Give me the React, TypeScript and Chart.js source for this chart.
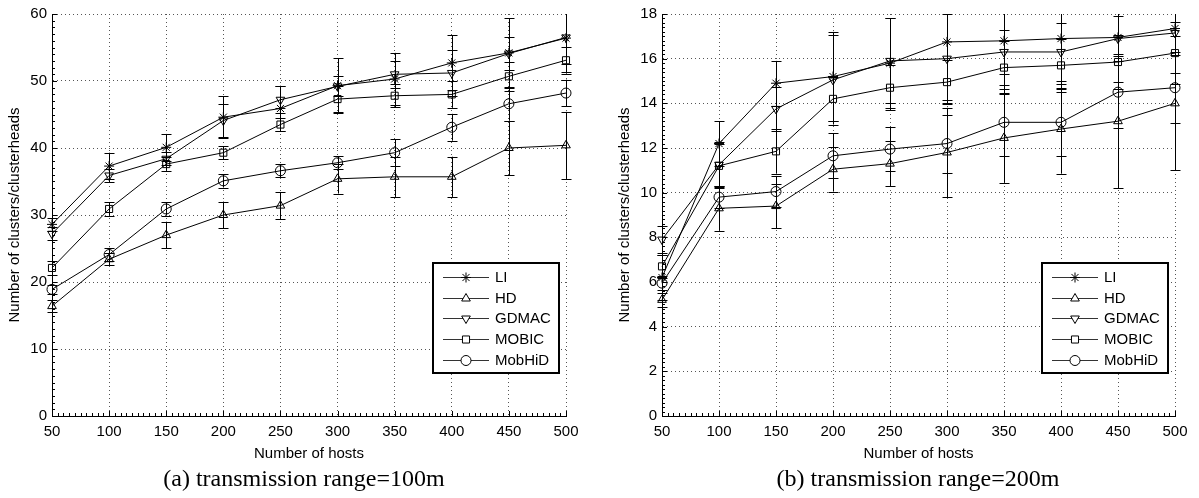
import React, { useEffect, useRef } from "react";
import { Chart, registerables } from "chart.js";
import { drawPoint } from "chart.js/helpers";

Chart.register(...registerables);

// ---------- data ----------
const hosts = [50, 100, 150, 200, 250, 300, 350, 400, 450, 500];
const seriesNames = ["LI", "HD", "GDMAC", "MOBIC", "MobHiD"];

// (a) transmission range = 100m
const aLI = [28.6, 37.3, 40.1, 44.6, 45.9, 49.3, 50.3, 52.7, 54.2, 56.4];
const aLIErr = [1.0, 2.0, 2.0, 3.1, 3.4, 4.1, 3.9, 4.1, 5.2, 5.0];
const aHD = [16.4, 23.4, 27.0, 30.0, 31.4, 35.4, 35.7, 35.7, 40.0, 40.4];
const aHDErr = [0.9, 0.9, 2.0, 2.0, 2.0, 2.2, 3.0, 3.0, 4.1, 5.0];
const aGDMAC = [27.2, 35.9, 38.4, 44.1, 47.2, 49.2, 51.0, 51.2, 54.1, 56.5];
const aGDMACErr = [1.0, 1.0, 1.0, 2.5, 2.0, 1.5, 2.0, 3.5, 2.5, 4.0];
const aMOBIC = [22.1, 30.9, 37.6, 39.3, 43.5, 47.3, 47.8, 48.0, 50.7, 53.1];
const aMOBICErr = [1.0, 1.0, 1.0, 1.0, 1.0, 2.0, 1.7, 2.0, 2.2, 2.0];
const aMobHiD = [18.9, 24.1, 30.9, 35.1, 36.6, 37.8, 39.3, 43.1, 46.6, 48.2];
const aMobHiDErr = [0.7, 1.0, 1.0, 1.0, 1.0, 1.0, 2.0, 2.0, 2.5, 2.0];

// (b) transmission range = 200m
const bLI = [6.2, 12.2, 14.9, 15.2, 15.8, 16.75, 16.8, 16.9, 16.95, 17.35];
const bLIErr = [1.0, 1.0, 1.0, 2.0, 2.0, 2.6, 2.0, 2.2, 2.0, 2.0];
const bHD = [5.2, 9.3, 9.4, 11.05, 11.3, 11.8, 12.45, 12.85, 13.2, 14.0];
const bHDErr = [0.3, 1.0, 1.0, 1.0, 1.0, 2.0, 2.0, 2.0, 3.0, 3.0];
const bGDMAC = [7.9, 11.25, 13.75, 15.05, 15.9, 16.0, 16.3, 16.3, 16.9, 17.15];
const bGDMACErr = [0.6, 1.0, 1.0, 2.0, 1.9, 2.0, 1.0, 1.3, 1.0, 1.0];
const bMOBIC = [6.7, 11.2, 11.85, 14.2, 14.7, 14.95, 15.6, 15.7, 15.85, 16.25];
const bMOBICErr = [0.5, 1.0, 1.0, 1.0, 1.0, 1.0, 1.2, 1.2, 1.2, 1.4];
const bMobHiD = [5.95, 9.8, 10.05, 11.65, 11.95, 12.2, 13.15, 13.15, 14.5, 14.7];
const bMobHiDErr = [0.3, 0.5, 0.7, 1.0, 1.0, 1.3, 1.5, 1.5, 1.6, 1.6];

const xTitle = "Number of hosts";
const yTitle = "Number of clusters/clusterheads";
const captionA = "(a) transmission range=100m";
const captionB = "(b) transmission range=200m";

// ---------- styles ----------
const FONT = "'Liberation Sans', Arial, Helvetica, sans-serif";
const markerStyles = [
  { pointStyle: "star", rotation: 0 },
  { pointStyle: "triangle", rotation: 0 },
  { pointStyle: "triangle", rotation: 180 },
  { pointStyle: "rect", rotation: 0 },
  { pointStyle: "circle", rotation: 0 },
];

const errorBarPlugin = {
  id: "errorBars",
  afterDatasetsDraw(chart: any) {
    const { ctx, chartArea } = chart;
    const x = chart.scales.x;
    const y = chart.scales.y;
    ctx.save();
    ctx.beginPath();
    ctx.rect(chartArea.left - 8, chartArea.top, chartArea.width + 16, chartArea.height);
    ctx.clip();
    ctx.strokeStyle = "#000";
    ctx.lineWidth = 1;
    chart.data.datasets.forEach((ds: any) => {
      const errs: number[] = ds.errors || [];
      ds.data.forEach((p: any, i: number) => {
        const e = errs[i];
        if (!e) return;
        const px = Math.round(x.getPixelForValue(p.x)) + 0.5;
        const top = y.getPixelForValue(p.y + e);
        const bot = y.getPixelForValue(p.y - e);
        ctx.beginPath();
        ctx.moveTo(px, top);
        ctx.lineTo(px, bot);
        ctx.moveTo(px - 5, Math.round(top) + 0.5);
        ctx.lineTo(px + 5, Math.round(top) + 0.5);
        ctx.moveTo(px - 5, Math.round(bot) + 0.5);
        ctx.lineTo(px + 5, Math.round(bot) + 0.5);
        ctx.stroke();
      });
    });
    ctx.restore();
  },
};

const minorTickPlugin = {
  id: "minorTicks",
  afterDraw(chart: any) {
    const { ctx, chartArea } = chart;
    const x = chart.scales.x;
    const y = chart.scales.y;
    ctx.save();
    ctx.strokeStyle = "#000";
    ctx.lineWidth = 1;
    ctx.beginPath();
    const xStep = 5;
    for (let v = x.min; v <= x.max + 1e-9; v += xStep) {
      const px = Math.round(x.getPixelForValue(v)) + 0.5;
      const major = Math.abs(((v - x.min) / 50) - Math.round((v - x.min) / 50)) < 1e-6;
      const len = major ? 5 : 3;
      ctx.moveTo(px, chartArea.bottom);
      ctx.lineTo(px, chartArea.bottom - len);
    }
    const yMajor = y.options.ticks.stepSize;
    const yStep = yMajor / 10;
    for (let k = 0; k * yStep <= y.max + 1e-9; k++) {
      const v = k * yStep;
      const py = Math.round(y.getPixelForValue(v)) + 0.5;
      const len = k % 10 === 0 ? 5 : 3;
      ctx.moveTo(chartArea.left, py);
      ctx.lineTo(chartArea.left + len, py);
    }
    ctx.stroke();
    ctx.restore();
  },
};

const legendPlugin = {
  id: "matlabLegend",
  afterDraw(chart: any) {
    const { ctx, chartArea } = chart;
    const w = 126;
    const h = 110;
    const x0 = Math.round(chartArea.right - 7 - w);
    const y0 = Math.round(chartArea.bottom - 43 - h);
    ctx.save();
    ctx.fillStyle = "#fff";
    ctx.fillRect(x0, y0, w, h);
    ctx.lineWidth = 2;
    ctx.strokeStyle = "#000";
    ctx.strokeRect(x0, y0, w, h);
    ctx.font = `15px ${FONT}`;
    ctx.textBaseline = "middle";
    ctx.textAlign = "left";
    chart.data.datasets.forEach((ds: any, i: number) => {
      const cy = Math.round(y0 + 14 + i * 20.7) + 0.5;
      ctx.strokeStyle = "#333";
      ctx.lineWidth = 1;
      ctx.beginPath();
      ctx.moveTo(x0 + 10, cy);
      ctx.lineTo(x0 + 56, cy);
      ctx.stroke();
      ctx.strokeStyle = "#000";
      ctx.fillStyle = "#fff";
      drawPoint(ctx, { pointStyle: ds.pointStyle, rotation: ds.pointRotation || 0, radius: 5, borderWidth: 1 }, x0 + 33, cy);
      ctx.fillStyle = "#000";
      ctx.fillText(ds.label, x0 + 62, cy);
    });
    ctx.restore();
  },
};

function buildDatasets(values: number[][], errors: number[][]) {
  return seriesNames.map((name, i) => ({
    label: name,
    data: hosts.map((h, j) => ({ x: h, y: values[i][j] })),
    errors: errors[i],
    borderColor: "#000",
    borderWidth: 1,
    backgroundColor: "rgba(0,0,0,0)",
    pointStyle: markerStyles[i].pointStyle,
    pointRotation: markerStyles[i].rotation,
    pointRadius: 5,
    pointBorderWidth: 1,
    pointBorderColor: "#000",
    pointBackgroundColor: "rgba(0,0,0,0)",
    tension: 0,
    clip: false,
    fill: false,
  }));
}

type PanelProps = {
  values: number[][];
  errors: number[][];
  yMax: number;
  yStep: number;
  width: number;
  height: number;
  yAxisWidth: number;
  rightPad: number;
  yTitlePad: number;
};

function Panel(props: PanelProps) {
  const ref = useRef<HTMLCanvasElement | null>(null);
  useEffect(() => {
    if (!ref.current) return;
    const tickFont = { family: FONT, size: 15 };
    const chart = new Chart(ref.current, {
      type: "line",
      data: { datasets: buildDatasets(props.values, props.errors) as any },
      options: {
        animation: false,
        responsive: false,
        devicePixelRatio: 1,
        layout: { padding: { top: 11, right: props.rightPad, left: 0, bottom: 0 } },
        plugins: { legend: { display: false }, tooltip: { enabled: false } },
        scales: {
          x: {
            type: "linear",
            min: 50,
            max: 500,
            ticks: { stepSize: 50, color: "#000", font: tickFont, padding: 7, maxRotation: 0, autoSkip: false },
            grid: { color: "#555", lineWidth: 1, drawTicks: false },
            border: { display: true, color: "#000", width: 1, dash: [1, 3] },
            title: { display: true, text: xTitle, color: "#000", font: tickFont, padding: { top: 0, bottom: 7 } },
            afterFit: (s: any) => {
              s.height = props.height - 416;
            },
          },
          y: {
            type: "linear",
            min: 0,
            max: props.yMax,
            ticks: { stepSize: props.yStep, color: "#000", font: tickFont, padding: 5 },
            grid: { color: "#555", lineWidth: 1, drawTicks: false },
            border: { display: true, color: "#000", width: 1, dash: [1, 3] },
            title: { display: true, text: yTitle, color: "#000", font: tickFont, padding: { top: props.yTitlePad, bottom: 0 } },
            afterFit: (s: any) => {
              s.width = props.yAxisWidth;
            },
          },
        },
      } as any,
      plugins: [errorBarPlugin, minorTickPlugin, legendPlugin],
    });
    return () => chart.destroy();
  }, []);
  return (
    <canvas
      ref={ref}
      width={props.width}
      height={props.height}
      style={{ width: props.width, height: props.height, display: "block" }}
    />
  );
}

const captionStyle: React.CSSProperties = {
  position: "absolute",
  top: 465,
  width: 400,
  textAlign: "center",
  fontFamily: "'Liberation Serif', 'Times New Roman', serif",
  fontSize: 24,
  lineHeight: "26px",
  color: "#000",
  whiteSpace: "nowrap",
};

export default function App() {
  return (
    <div style={{ position: "absolute", left: 0, top: 0, width: 1199, height: 498, background: "#fff", overflow: "hidden" }}>
      <div style={{ position: "absolute", left: 0, top: 0 }}>
        <Panel
          values={[aLI, aHD, aGDMAC, aMOBIC, aMobHiD]}
          errors={[aLIErr, aHDErr, aGDMACErr, aMOBICErr, aMobHiDErr]}
          yMax={60}
          yStep={10}
          width={600}
          height={470}
          yAxisWidth={52}
          rightPad={34}
          yTitlePad={6}
        />
      </div>
      <div style={{ position: "absolute", left: 600, top: 0 }}>
        <Panel
          values={[bLI, bHD, bGDMAC, bMOBIC, bMobHiD]}
          errors={[bLIErr, bHDErr, bGDMACErr, bMOBICErr, bMobHiDErr]}
          yMax={18}
          yStep={2}
          width={599}
          height={470}
          yAxisWidth={62}
          rightPad={24}
          yTitlePad={16}
        />
      </div>
      <div style={{ ...captionStyle, left: 304 - 200 }}>{captionA}</div>
      <div style={{ ...captionStyle, left: 918 - 200 }}>{captionB}</div>
    </div>
  );
}
